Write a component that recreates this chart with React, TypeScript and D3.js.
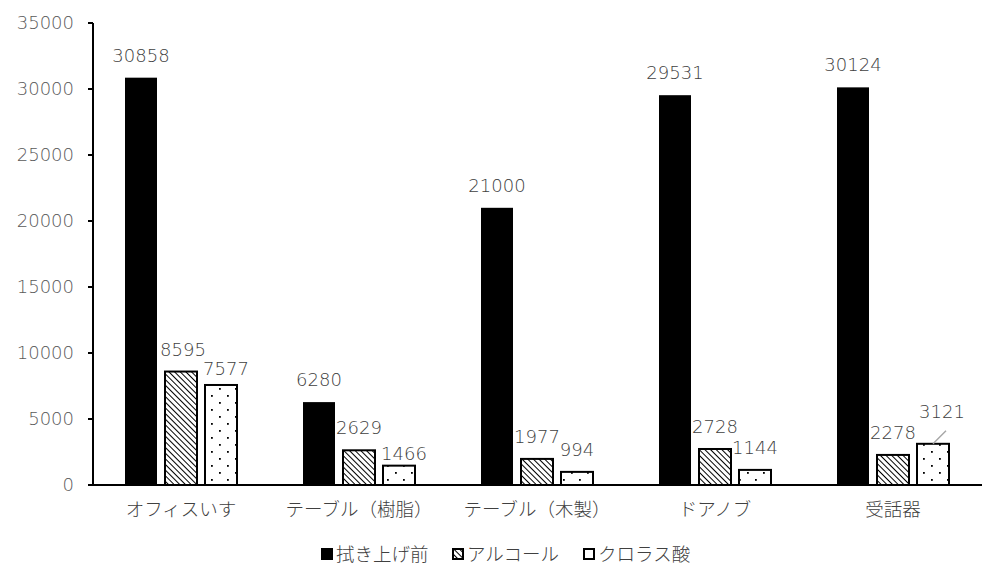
import { scaleBand, scaleLinear } from "d3";

const categories = ["オフィスいす", "テーブル（樹脂）", "テーブル（木製）", "ドアノブ", "受話器"];
const seriesNames = ["拭き上げ前", "アルコール", "クロラス酸"];
const beforeWipe = [30858, 6280, 21000, 29531, 30124];
const alcohol = [8595, 2629, 1977, 2728, 2278];
const chlorousAcid = [7577, 1466, 994, 1144, 3121];
const yTicks = [0, 5000, 10000, 15000, 20000, 25000, 30000, 35000];

const seriesValues = [beforeWipe, alcohol, chlorousAcid];

const WIDTH = 1004;
const HEIGHT = 586;
const PLOT_LEFT = 92;
const PLOT_RIGHT = 982;
const PLOT_TOP = 23;
const PLOT_BOTTOM = 485;
const LABEL_GAP = 16;
const NUM_FONT = "'DejaVu Sans', 'Noto Sans CJK JP', sans-serif";
const JP_FONT = "'Noto Sans CJK JP', sans-serif";

// hand-placed label nudges, [series]-[category] -> [dx, dy]
const labelNudge: Record<string, [number, number]> = {
  "1-0": [2, 0],
  "2-0": [5, 6],
  "2-1": [5, 10],
  "2-4": [9, -10],
};

const fills = ["#000000", "url(#hatch)", "url(#dots)"];

export default function App() {
  const x0 = scaleBand<string>().domain(categories).range([PLOT_LEFT, PLOT_RIGHT]);
  const x1 = scaleBand<string>().domain(seriesNames).range([-60, 60]).paddingInner(0.2).paddingOuter(0.1);
  const y = scaleLinear().domain([0, 35000]).range([PLOT_BOTTOM, PLOT_TOP]);
  const bw = x1.bandwidth();

  const legendX = [321, 452, 583];

  return (
    <svg
      width={WIDTH}
      height={HEIGHT}
      style={{ position: "absolute", left: 0, top: 0, background: "#fff" }}
    >
      <defs>
        <pattern id="hatch" width="4" height="4" patternUnits="userSpaceOnUse" patternTransform="rotate(-45)">
          <rect width="4" height="4" fill="#fff" />
          <line x1="0" y1="0" x2="0" y2="4" stroke="#000" strokeWidth="2" />
        </pattern>
        <pattern id="dots" width="16" height="14" patternUnits="userSpaceOnUse">
          <rect width="16" height="14" fill="#fff" />
          <rect x="3" y="3" width="1.8" height="1.8" fill="#000" />
          <rect x="11" y="10" width="1.8" height="1.8" fill="#000" />
        </pattern>
      </defs>

      {/* bars */}
      {categories.map((cat, ci) => {
        const cx = (x0(cat) ?? 0) + x0.bandwidth() / 2;
        return seriesNames.map((name, si) => {
          const v = seriesValues[si][ci];
          const bx = cx + (x1(name) ?? 0);
          const top = y(v);
          return (
            <rect
              key={`${cat}-${name}`}
              x={bx}
              y={top}
              width={bw}
              height={PLOT_BOTTOM - top}
              fill={fills[si]}
              stroke="#000"
              strokeWidth={si === 0 ? 0 : 2}
            />
          );
        });
      })}

      {/* data labels */}
      {categories.map((cat, ci) => {
        const cx = (x0(cat) ?? 0) + x0.bandwidth() / 2;
        return seriesNames.map((name, si) => {
          const v = seriesValues[si][ci];
          const barCx = cx + (x1(name) ?? 0) + bw / 2;
          const top = y(v);
          const [dx, dy] = labelNudge[`${si}-${ci}`] ?? [0, 0];
          const lx = barCx + dx;
          const ly = top - LABEL_GAP + dy;
          const leader = dy < 0;
          return (
            <g key={`lbl-${cat}-${name}`}>
              {leader ? (
                <line x1={barCx} y1={top} x2={lx + 4} y2={ly + 13} stroke="#a6a6a6" strokeWidth={1.5} />
              ) : null}
              <text
                x={lx}
                y={ly}
                textAnchor="middle"
                fontFamily={NUM_FONT}
                fontSize={18}
                fontWeight={200}
                fill="#404040"
              >
                {v}
              </text>
            </g>
          );
        });
      })}

      {/* y axis */}
      <line x1={PLOT_LEFT + 1} y1={PLOT_TOP} x2={PLOT_LEFT + 1} y2={PLOT_BOTTOM} stroke="#000" strokeWidth={2} />
      {yTicks.map((t) => (
        <g key={t}>
          <line x1={PLOT_LEFT - 4} x2={PLOT_LEFT + 1} y1={y(t)} y2={y(t)} stroke="#000" strokeWidth={2} />
          <text
            x={74}
            y={y(t)}
            dy="0.36em"
            textAnchor="end"
            fontFamily={NUM_FONT}
            fontSize={18}
            fontWeight={200}
            fill="#595959"
          >
            {t}
          </text>
        </g>
      ))}

      {/* x axis */}
      <line x1={PLOT_LEFT} y1={PLOT_BOTTOM} x2={PLOT_RIGHT} y2={PLOT_BOTTOM} stroke="#000" strokeWidth={2} />
      {categories.map((cat) => (
        <text
          key={cat}
          x={(x0(cat) ?? 0) + x0.bandwidth() / 2}
          y={516}
          textAnchor="middle"
          fontFamily={JP_FONT}
          fontSize={18.5}
          fontWeight={300}
          fill="#404040"
        >
          {cat}
        </text>
      ))}

      {/* legend */}
      {seriesNames.map((name, si) => (
        <g key={name} transform={`translate(${legendX[si]},548)`}>
          <rect
            x={1}
            y={1}
            width={10}
            height={10}
            fill={si === 0 ? "#000" : si === 1 ? "url(#hatch)" : "#fff"}
            stroke="#000"
            strokeWidth={2}
          />
          <text x={15} y={6} dy="0.36em" fontFamily={JP_FONT} fontSize={18.5} fontWeight={300} fill="#404040">
            {name}
          </text>
        </g>
      ))}
    </svg>
  );
}
